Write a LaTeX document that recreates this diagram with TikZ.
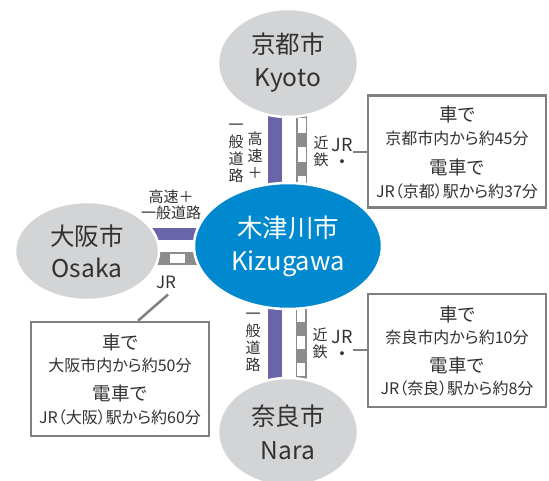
\documentclass[tikz,border=0pt]{standalone}
\usepackage{fontspec}
\setmainfont{Noto Sans CJK JP}
\newfontfamily\pfont[RawFeature=+palt]{Noto Sans CJK JP}
\usetikzlibrary{shapes.geometric}
\definecolor{cgray}{RGB}{211,212,214}
\definecolor{cblue}{RGB}{0,137,206}
\definecolor{cpurple}{RGB}{106,100,168}
\definecolor{crail}{RGB}{140,140,140}
\definecolor{cbox}{RGB}{128,128,128}
\definecolor{ctext}{RGB}{50,50,50}
\pgfdeclarelayer{bg}
\pgfdeclarelayer{bars}
\pgfsetlayers{bg,bars,main}
\tikzset{
 city/.style={ellipse, fill=cgray, draw=white, line width=2.5pt, inner sep=0pt, align=center, text=ctext, font=\fontsize{24.5}{33}\selectfont},
 road/.style={cpurple, line width=14pt},
 railbase/.style={crail, line width=11pt},
 railgap/.style={white, line width=8pt},
 vlabel/.style={inner sep=0pt, align=center, text=ctext, font=\fontsize{15}{17}\selectfont},
 jrlabel/.style={inner sep=0pt, align=center, text=ctext, font=\fontsize{18}{17}\selectfont},
 infobox/.style={draw=cbox, line width=2.5pt, fill=white, minimum width=178pt, minimum height=113pt, inner sep=0pt},
 bigtxt/.style={text=ctext, inner sep=0pt, font=\pfont\fontsize{18.5}{20}\selectfont},
 smalltxt/.style={text=ctext, inner sep=0pt, font=\pfont\fontsize{16}{18}\selectfont},
 link/.style={cbox, line width=2.5pt},
}
\begin{document}
\begin{tikzpicture}[x=1pt,y=-1pt]
\useasboundingbox (0,0) rectangle (549,480);
\begin{pgfonlayer}{bg}
\fill[white] (0,0) rectangle (549,480);
\end{pgfonlayer}

% cities
\node[city, minimum width=140pt, minimum height=108pt] (kyoto) at (288,63) {京都市\\Kyoto};
\node[city, fill=cblue, text=white, minimum width=188pt, minimum height=126pt, font=\fontsize{25.5}{33}\selectfont] (kizu) at (288,246) {木津川市\\Kizugawa};
\node[city, minimum width=144pt, minimum height=98pt, font=\fontsize{24.5}{32}\selectfont] (osaka) at (87,251) {大阪市\\Osaka};
\node[city, minimum width=140pt, minimum height=108pt, font=\fontsize{24.5}{34}\selectfont] (nara) at (288,432) {奈良市\\Nara};

% road and rail bars
\begin{pgfonlayer}{bars}
\draw[road] ([xshift=-13pt]kyoto.center) -- ([xshift=-13pt]kizu.center);
\draw[railbase] ([xshift=13.5pt]kyoto.center) -- ([xshift=13.5pt]kizu.center);
\draw[railgap, dash pattern=on 15pt off 14pt, dash phase=3pt] ([xshift=13.5pt]kyoto.center) -- ([xshift=13.5pt]kizu.center);
\draw[road] ([xshift=-13pt]kizu.center) -- ([xshift=-13pt]nara.center);
\draw[railbase] ([xshift=13pt]kizu.center) -- ([xshift=13pt]nara.center);
\draw[railgap, dash pattern=on 13pt off 14pt, dash phase=18pt] ([xshift=13pt]kizu.center) -- ([xshift=13pt]nara.center);
\draw[road, line width=12pt] ([yshift=17pt]osaka.center) -- ([yshift=12pt]kizu.center);
\draw[railbase, line width=13pt] ([yshift=-7.5pt]osaka.center) -- ([yshift=-12.5pt]kizu.center);
\draw[railgap, line width=9pt, dash pattern=on 15pt off 100pt, dash phase=32pt] ([yshift=-7.5pt]osaka.center) -- ([yshift=-12.5pt]kizu.center);
\end{pgfonlayer}

% route labels
\node[vlabel] (kRoadA) at (255,155) {高\\速\\＋};
\node[vlabel] (kRoadB) at (236,153) {一\\般\\道\\路};
\node[vlabel] (kKin) at (321,151) {近\\鉄};
\node[jrlabel] (jrK) at (342,153.5) {JR\\・};
\node[vlabel] (nRoad) at (253,342) {一\\般\\道\\路};
\node[vlabel] (nKin) at (320,343) {近\\鉄};
\node[jrlabel] (jrN) at (342,345) {JR\\・};
\node[vlabel, font=\fontsize{15}{15.5}\selectfont] (oRoad) at (171,205) {高速＋\\一般道路};
\node[jrlabel, font=\fontsize{17}{17}\selectfont] (jrO) at (166,282) {JR};

% info boxes
\node[infobox, minimum height=112pt] (boxK) at (457,151.5) {};
\node[bigtxt] (kA) at (457,114.5) {車で};
\node[smalltxt] (kB) at (457,138.5) {京都市内から約45分};
\node[bigtxt] (kC) at (457,167.5) {電車で};
\node[smalltxt] (kD) at (457,191) {JR（京都）駅から約37分};

\node[infobox] (boxN) at (457,350.5) {};
\node[bigtxt] (nA) at (457,315) {車で};
\node[smalltxt] (nB) at (457,337.5) {奈良市内から約10分};
\node[bigtxt] (nC) at (457,365) {電車で};
\node[smalltxt] (nD) at (457,388) {JR（奈良）駅から約8分};

\node[infobox, minimum height=114pt] (boxO) at (120,379) {};
\node[bigtxt] (oA) at (120,343) {車で};
\node[smalltxt] (oB) at (120,365) {大阪市内から約50分};
\node[bigtxt] (oC) at (120,393) {電車で};
\node[smalltxt] (oD) at (120,417) {JR（大阪）駅から約60分};

% connectors
\coordinate (kc) at ([yshift=1.5pt]jrK.east);
\draw[link] (kc) -- (kc -| boxK.west);
\coordinate (nc) at ([yshift=-5pt]jrN.east);
\draw[link] (nc) -- (nc -| boxN.west);
\coordinate (oc) at ([shift={(2pt,-6pt)}]jrO.south);
\draw[link] (oc) -- ([xshift=18pt]boxO.north);
\end{tikzpicture}
\end{document}
